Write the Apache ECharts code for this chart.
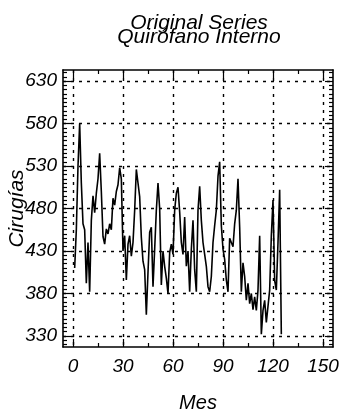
<!DOCTYPE html>
<html><head><meta charset="utf-8">
<script src="https://cdn.jsdelivr.net/npm/echarts@6/dist/echarts.min.js"></script>
<style>html,body{margin:0;padding:0;background:#fff}#c{width:344px;height:413px}</style>
</head><body><div id="c"></div>
<script>
const titleLines = ['Original Series', 'Quirófano Interno'];
const xName = 'Mes';
const yName = 'Cirugías';
const xTicks = [0, 30, 60, 90, 120, 150];
const yTicks = [330, 380, 430, 480, 530, 580, 630];
const values = [
  410, 455, 530, 580, 510, 462, 455, 392, 440, 382,
  466, 495, 475, 498, 515, 545, 500, 447, 438, 456,
  450, 462, 455, 492, 484, 500, 508, 528, 515, 430,
  448, 396, 438, 448, 424, 440, 478, 526, 510, 494,
  446, 418, 408, 355, 405, 452, 458, 388, 432, 478,
  510, 480, 390, 430, 412, 398, 380, 428, 438, 426,
  478, 498, 505, 476, 440, 426, 470, 412, 430, 382,
  432, 466, 408, 382, 478, 506, 466, 440, 426, 412,
  388, 382, 400, 440, 460, 478, 518, 535, 460, 432,
  420, 396, 382, 445, 440, 435, 462, 478, 515, 458,
  382, 416, 400, 372, 392, 368, 380, 361, 376, 360,
  384, 448, 332, 360, 372, 346, 346, 384, 448, 490,
  395, 384, 440, 502, 332
];
const months = values.map((v, i) => i + 1);

const xMinor = [];
for (let i = 0; i < xTicks.length - 1; i++) xMinor.push((xTicks[i] + xTicks[i + 1]) / 2);
const yMinor = [];
for (let v = yTicks[0] - 10; v <= yTicks[yTicks.length - 1] + 10; v += 5) if (!yTicks.includes(v)) yMinor.push(v);

const FONT = '"Liberation Sans", Arial, sans-serif';
const X_MIN = -6, X_MAX = 156, Y_MIN = 317, Y_MAX = 643;
const gridLine = { show: true, lineStyle: { color: '#000', width: 1.4, type: [3, 5] } };

function xAx(pos, ticks, len, labels, split, line) {
  return {
    type: 'value', position: pos, min: X_MIN, max: X_MAX,
    axisLine: { show: line, onZero: false, lineStyle: { color: '#000', width: 1.6 } },
    axisTick: { show: true, inside: true, length: len, customValues: ticks, lineStyle: { color: '#000', width: 1.2 } },
    axisLabel: labels ? { show: true, customValues: ticks, margin: 10, color: '#000', fontFamily: FONT, fontStyle: 'italic', fontSize: 19 } : { show: false },
    splitLine: split ? gridLine : { show: false },
    name: labels ? xName : '', nameLocation: 'middle', nameGap: 46,
    nameTextStyle: { color: '#000', fontFamily: FONT, fontStyle: 'italic', fontSize: 20 }
  };
}
function yAx(pos, ticks, len, labels, split, line) {
  return {
    type: 'value', position: pos, min: Y_MIN, max: Y_MAX,
    axisLine: { show: line, onZero: false, lineStyle: { color: '#000', width: 1.6 } },
    axisTick: { show: true, inside: true, length: len, customValues: ticks, lineStyle: { color: '#000', width: 1.2 } },
    axisLabel: labels ? { show: true, customValues: ticks, margin: 6, color: '#000', fontFamily: FONT, fontStyle: 'italic', fontSize: 19 } : { show: false },
    splitLine: split ? gridLine : { show: false },
    name: labels ? yName : '', nameLocation: 'middle', nameGap: 35, nameRotate: 90,
    nameMoveOverlap: false,
    nameTextStyle: { color: '#000', fontFamily: FONT, fontStyle: 'italic', fontSize: 21 }
  };
}

const chart = echarts.init(document.getElementById('c'), null, { renderer: 'canvas' });
chart.setOption({
  animation: false,
  backgroundColor: '#fff',
  graphic: titleLines.map((t, i) => ({
    type: 'text', x: 199, y: 13 + i * 14, z: 10,
    style: { text: t, textAlign: 'center', textVerticalAlign: 'top', fill: '#000',
      fontFamily: FONT, fontStyle: 'italic', fontSize: 21 }
  })),
  grid: { left: 63, right: 11, top: 70, bottom: 66, containLabel: false, outerBoundsMode: 'none' },
  xAxis: [
    xAx('bottom', xTicks, 8, true, true, true),
    xAx('bottom', xMinor, 4, false, false, false),
    xAx('top', xTicks, 8, false, false, true),
    xAx('top', xMinor, 4, false, false, false)
  ],
  yAxis: [
    yAx('left', yTicks, 8, true, true, true),
    yAx('left', yMinor, 4, false, false, false),
    yAx('right', yTicks, 8, false, false, true),
    yAx('right', yMinor, 4, false, false, false)
  ],
  series: [{
    type: 'line', xAxisIndex: 0, yAxisIndex: 0, showSymbol: false, symbol: 'none',
    lineStyle: { color: '#000', width: 1.6 },
    data: months.map((m, i) => [m, values[i]])
  }]
});
</script>
</body></html>
